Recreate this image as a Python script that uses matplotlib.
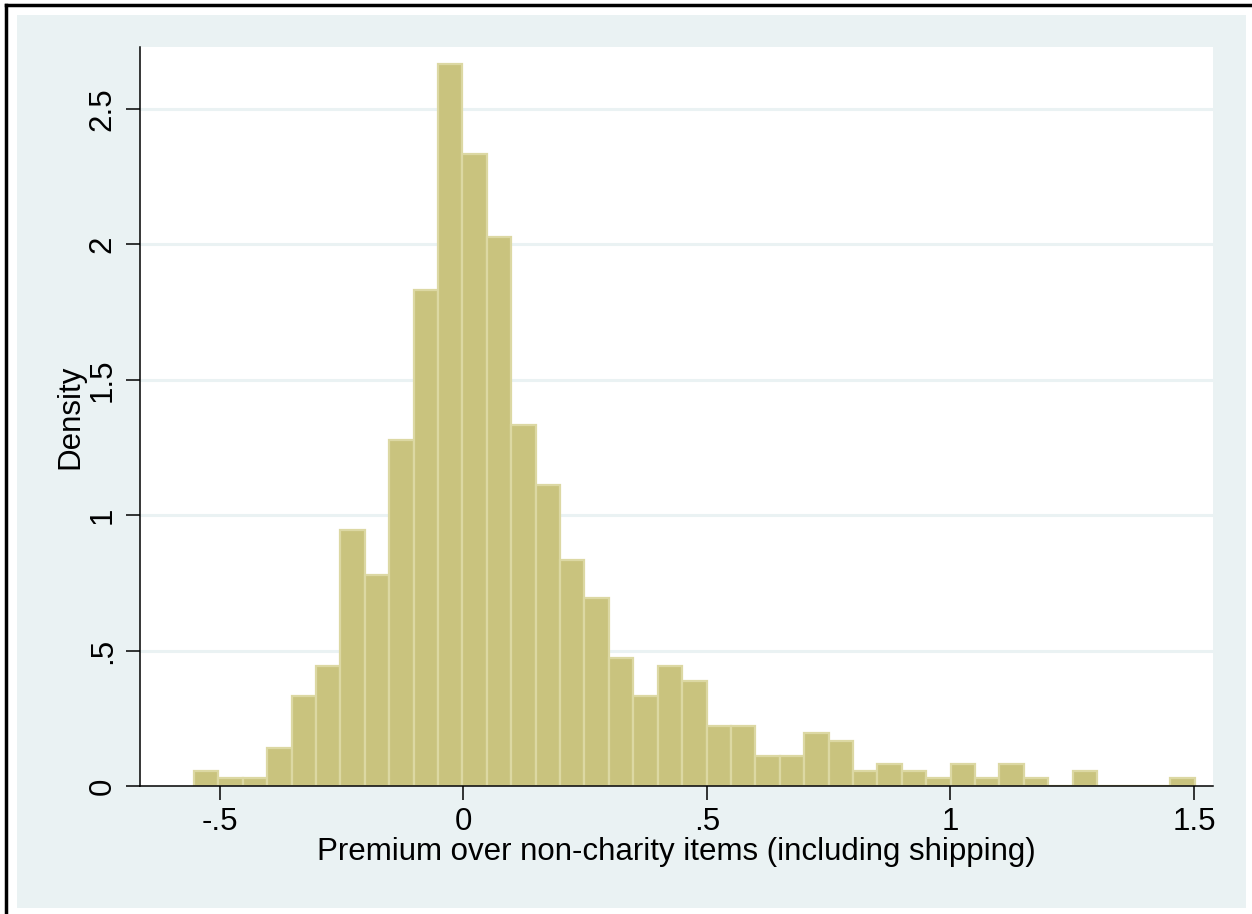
import matplotlib
matplotlib.use('Agg')
import matplotlib.pyplot as plt
from matplotlib.patches import Rectangle
from matplotlib.lines import Line2D

# histogram: 41 bins of equal width starting at bin_start
bin_start = -0.553
bin_width = 0.0501
density = [0.056, 0.028, 0.028, 0.139, 0.333, 0.444, 0.944, 0.778, 1.278, 1.833,
           2.667, 2.333, 2.028, 1.333, 1.111, 0.833, 0.694, 0.472, 0.333, 0.444,
           0.389, 0.222, 0.222, 0.111, 0.111, 0.194, 0.167, 0.056, 0.083, 0.056,
           0.028, 0.083, 0.028, 0.083, 0.028, 0.0, 0.056, 0.0, 0.0, 0.0, 0.028]
xticks = [-0.5, 0, 0.5, 1, 1.5]
xtick_labels = ['-.5', '0', '.5', '1', '1.5']
yticks = [0, 0.5, 1, 1.5, 2, 2.5]
ytick_labels = ['0', '.5', '1', '1.5', '2', '2.5']

plt.rcParams['font.family'] = ['Liberation Sans', 'DejaVu Sans']
bg = '#eaf2f3'
fill = '#c9c37e'
edge = '#dcd8a3'

fig = plt.figure(figsize=(12.52, 9.14), dpi=100)
W, H = 1252, 914
fig.patches.append(Rectangle((17 / W, 6 / H), (1246 - 17) / W, (908 - 15) / H,
                             transform=fig.transFigure, facecolor=bg, edgecolor='none', zorder=-5))
fig.lines.append(Line2D([6 / W, 1250 / W], [1 - 5 / H, 1 - 5 / H], transform=fig.transFigure,
                        color='black', lw=2.5))
fig.lines.append(Line2D([6 / W, 6 / W], [0, 1 - 5 / H], transform=fig.transFigure,
                        color='black', lw=2.5))

ax = fig.add_axes([140 / W, 1 - 786 / H, (1213 - 140) / W, (786 - 47) / H])
ax.set_zorder(2)
ax.set_facecolor('white')

lefts = [bin_start + i * bin_width for i in range(len(density))]
ax.bar(lefts, density, width=bin_width, align='edge', color=fill, edgecolor=edge,
       linewidth=1.6, zorder=3)

ax.set_xlim(-0.664, 1.539)
ax.set_ylim(0, 2.729)
ax.set_xticks(xticks)
ax.set_xticklabels(xtick_labels)
ax.set_yticks(yticks)
ax.set_yticklabels(ytick_labels, rotation=90, va='center')
for y in yticks[1:]:
    ax.axhline(y, color=bg, lw=2.2, zorder=1)

for s in ['top', 'right']:
    ax.spines[s].set_visible(False)
for s in ['left', 'bottom']:
    ax.spines[s].set_linewidth(1.1)
    ax.spines[s].set_zorder(4)
ax.tick_params(axis='both', length=10, width=1.1, labelsize=22.5, direction='out')
ax.tick_params(axis='x', pad=5)
ax.tick_params(axis='y', pad=6)

ax.set_xlabel('Premium over non-charity items (including shipping)', fontsize=22.5, labelpad=0)
ax.set_ylabel('Density', fontsize=22.5, labelpad=2)

fig.savefig('out.png', dpi=100)
